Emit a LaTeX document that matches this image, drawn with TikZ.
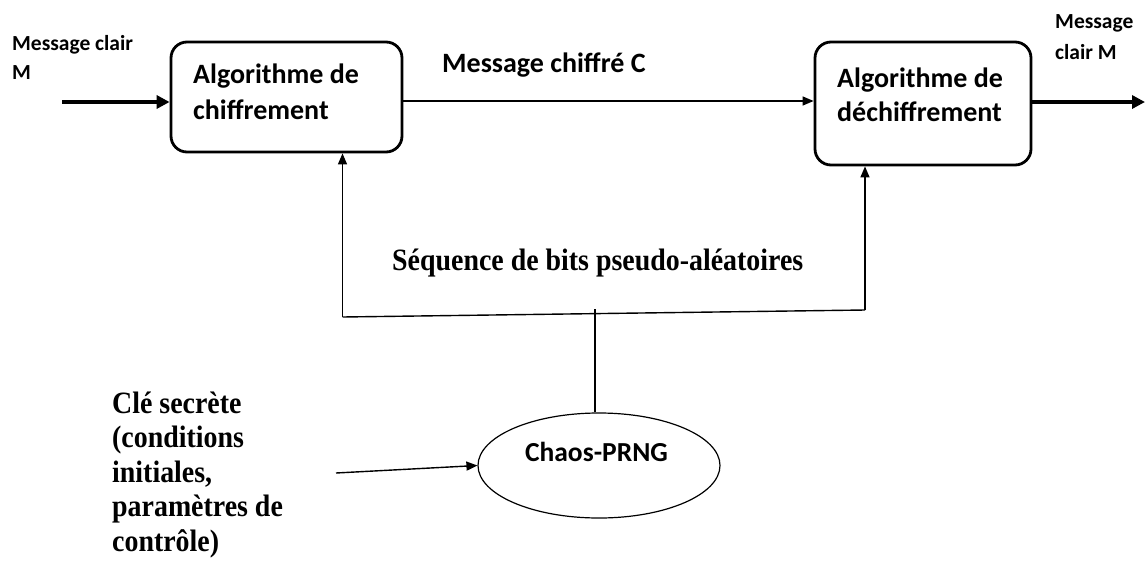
\documentclass[tikz,border=0pt]{standalone}
\usepackage{fontspec}
\usetikzlibrary{arrows.meta,shapes.geometric}
\newfontfamily\calfont{Carlito}
\newfontfamily\serfont{Liberation Serif}[FakeStretch=0.9]
\begin{document}
\begin{tikzpicture}[x=1pt,y=-1pt,
  box/.style={draw,line width=2.8pt,rounded corners=16pt,inner sep=0pt},
  boxtext/.style={inner sep=0pt,anchor=base west,align=left,
    font=\calfont\bfseries\fontsize{28}{36}\selectfont},
  smalltext/.style={inner sep=0pt,anchor=base west,align=left,
    font=\calfont\bfseries\fontsize{21.5}{29}\selectfont},
  sertext/.style={inner sep=0pt,anchor=base west,align=left,
    font=\serfont\bfseries\fontsize{31}{34.5}\selectfont},
  thickarrow/.style={line width=3.4pt,-{Triangle[length=13pt,width=13pt]}},
  thinarrow/.style={line width=1.4pt,-{Triangle[length=11pt,width=9pt]}},
  thinline/.style={line width=1.4pt}]
\useasboundingbox (0,0) rectangle (1145,560);

% processing blocks (multi-line texts are placed by their last baseline)
\node[box,minimum width=231pt,minimum height=110pt] (enc) at (286.5,97) {};
\node[boxtext] (enct) at (193,119) {Algorithme de\\chiffrement};
\node[box,minimum width=216pt,minimum height=123pt] (dec) at (923,103.5) {};
\node[boxtext,font=\calfont\bfseries\fontsize{28}{34}\selectfont] (dect) at (837,121) {Algorithme de\\déchiffrement};

% generator
\node[draw,ellipse,line width=1.2pt,minimum width=242pt,minimum height=105pt,inner sep=0pt] (prng) at (599,465.5) {};
\node[inner sep=0pt,anchor=base,font=\calfont\bfseries\fontsize{27.5}{32}\selectfont] (prngt) at (596.5,461) {Chaos-PRNG};

% labels
\node[smalltext] (min) at (12,79) {Message clair\\M};
\node[smalltext,font=\calfont\bfseries\fontsize{21.5}{31}\selectfont] (mout) at (1055,59) {Message\\clair M};
\node[boxtext] (mc) at (442,72) {Message chiffré C};
\node[sertext] (seq) at (392,270) {Séquence de bits pseudo-aléatoires};
\node[sertext] (key) at (112,551) {Clé secrète\\(conditions\\initiales,\\paramètres de\\contrôle)};

% free ends of the connectors
\coordinate (inA) at (62,102);
\coordinate (outB) at (1145,102);
\coordinate (fl) at (342.5,317);
\coordinate (fr) at (865,310);
\coordinate (tap) at (595,309);
\coordinate (kin) at (336,473);

% connectors
\draw[thickarrow] (inA) -- (inA -| enc.west);
\draw[thinarrow] (enc.east |- 0,101) -- (dec.west |- 0,101);
\draw[thickarrow] (dec.east |- outB) -- (outB);
\draw[thinline] (fl) -- (fr);
\draw[thinarrow] (fl) -- (fl |- enc.south);
\draw[thinarrow] (fr) -- (fr |- dec.south);
\draw[line width=1.1pt] (tap) -- (tap |- prng.north);
\draw[thinarrow] (kin) -- (prng.west);
\end{tikzpicture}
\end{document}
